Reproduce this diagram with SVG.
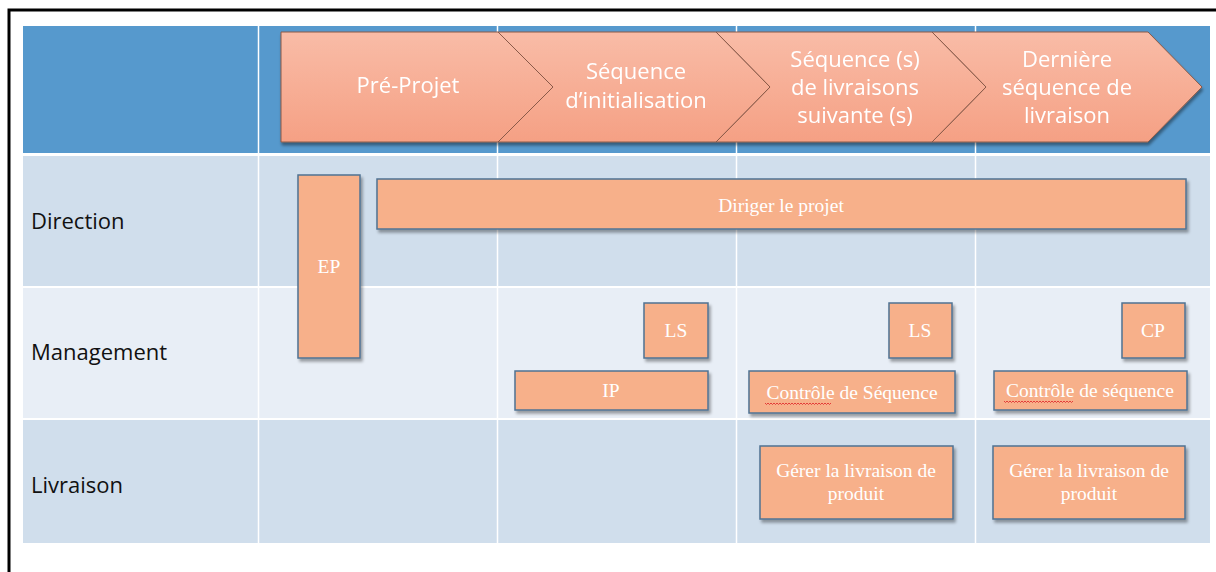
<svg xmlns="http://www.w3.org/2000/svg" width="1216" height="572" viewBox="0 0 1216 572">
<style>
.hdr{fill:#ffffff;font-family:"Open Sans","Liberation Sans",sans-serif;font-size:22px;text-anchor:middle}
.lbl{fill:#111111;font-family:"Open Sans","Liberation Sans",sans-serif;font-size:22px}
.box{fill:#f7b08a;stroke:#4f7393;stroke-width:1.5;filter:url(#sh)}
.bt{fill:#ffffff;font-family:"Liberation Serif","Times New Roman",serif;font-size:19.5px;text-anchor:middle}
.chev{fill:url(#cg);stroke:#8a5a48;stroke-width:1}
.sep{stroke:#ffffff;stroke-width:1.5}
.sq{fill:none;stroke:#e03030;stroke-width:0.9}
</style>
<defs>
<linearGradient id="cg" x1="0" y1="0" x2="0" y2="1">
<stop offset="0" stop-color="#f9bca7"/>
<stop offset="1" stop-color="#f5a084"/>
</linearGradient>
<filter id="sh" x="-10%" y="-10%" width="130%" height="140%">
<feDropShadow dx="2" dy="3" stdDeviation="1.5" flood-color="#000" flood-opacity="0.35"/>
</filter>
<filter id="hsh" x="-5%" y="-10%" width="115%" height="130%">
<feDropShadow dx="1" dy="3" stdDeviation="1.5" flood-color="#000" flood-opacity="0.4"/>
</filter>
</defs>
<rect width="1216" height="572" fill="#ffffff"/>
<path d="M9,572 V10 H1216" fill="none" stroke="#000" stroke-width="3"/>
<g id="table">
<rect x="23" y="26" width="1187" height="127" fill="#5699cd"/>
<rect x="23" y="153" width="1187" height="3" fill="#ffffff"/>
<rect x="23" y="156" width="1187" height="130" fill="#d0deec"/>
<rect x="23" y="288" width="1187" height="130" fill="#e8eef6"/>
<rect x="23" y="420" width="1187" height="123" fill="#d0deec"/>
<line class="sep" x1="23" y1="287" x2="1210" y2="287"/>
<line class="sep" x1="23" y1="419" x2="1210" y2="419"/>
<line class="sep" x1="258.5" y1="26" x2="258.5" y2="543"/>
<line class="sep" x1="497.5" y1="26" x2="497.5" y2="543"/>
<line class="sep" x1="736.5" y1="26" x2="736.5" y2="543"/>
<line class="sep" x1="975.5" y1="26" x2="975.5" y2="543"/>
<text class="lbl" x="31" y="229">Direction</text>
<text class="lbl" x="31" y="360">Management</text>
<text class="lbl" x="31" y="493">Livraison</text>
</g>
<g id="phases" filter="url(#hsh)">
<g id="chev4"><path class="chev" d="M932,32 H1148 L1202,87 L1148,142 H932 L986,87 Z"/>
<text class="hdr" x="1067" y="67">Dernière</text><text class="hdr" x="1067" y="95">séquence de</text><text class="hdr" x="1067" y="123">livraison</text></g>
<g id="chev3"><path class="chev" d="M716,32 H932 L986,87 L932,142 H716 L770,87 Z"/>
<text class="hdr" x="855" y="67">Séquence (s)</text><text class="hdr" x="855" y="95">de livraisons</text><text class="hdr" x="855" y="123">suivante (s)</text></g>
<g id="chev2"><path class="chev" d="M498,32 H716 L770,87 L716,142 H498 L553,87 Z"/>
<text class="hdr" x="636" y="79">Séquence</text><text class="hdr" x="636" y="108">d’initialisation</text></g>
<g id="chev1"><path class="chev" d="M281,32 H498 L553,87 L498,142 H281 Z"/>
<text class="hdr" x="408" y="93">Pré-Projet</text></g>
</g>
<g id="connectors"/>
<g id="ep"><rect class="box" x="298" y="175" width="62" height="183"/><text class="bt" x="329" y="273">EP</text></g>
<g id="diriger"><rect class="box" x="377" y="179" width="809" height="50"/><text class="bt" x="781" y="212">Diriger le projet</text></g>
<g id="ls1"><rect class="box" x="644" y="303" width="64" height="55"/><text class="bt" x="676" y="337">LS</text></g>
<g id="ip"><rect class="box" x="515" y="371" width="193" height="39"/><text class="bt" x="611" y="397">IP</text></g>
<g id="ls2"><rect class="box" x="889" y="303" width="63" height="55"/><text class="bt" x="920" y="337">LS</text></g>
<g id="cp"><rect class="box" x="1122" y="303" width="63" height="55"/><text class="bt" x="1153" y="337">CP</text></g>
<g id="controle1"><rect class="box" x="749" y="371" width="206" height="42"/><text class="bt" x="852" y="399">Contrôle de Séquence</text>
<path class="sq" d="M765,403 l1.5,1.5 l1.5,-1.5 l1.5,1.5 l1.5,-1.5 l1.5,1.5 l1.5,-1.5 l1.5,1.5 l1.5,-1.5 l1.5,1.5 l1.5,-1.5 l1.5,1.5 l1.5,-1.5 l1.5,1.5 l1.5,-1.5 l1.5,1.5 l1.5,-1.5 l1.5,1.5 l1.5,-1.5 l1.5,1.5 l1.5,-1.5 l1.5,1.5 l1.5,-1.5 l1.5,1.5 l1.5,-1.5 l1.5,1.5 l1.5,-1.5 l1.5,1.5 l1.5,-1.5 l1.5,1.5 l1.5,-1.5 l1.5,1.5 l1.5,-1.5 l1.5,1.5 l1.5,-1.5 l1.5,1.5 l1.5,-1.5 l1.5,1.5 l1.5,-1.5 l1.5,1.5 l1.5,-1.5 l1.5,1.5 l1.5,-1.5 l1.5,1.5 l1.5,-1.5"/></g>
<g id="controle2"><rect class="box" x="994" y="371" width="193" height="39"/><text class="bt" x="1090" y="397">Contrôle de séquence</text>
<path class="sq" d="M1004,401 l1.5,1.5 l1.5,-1.5 l1.5,1.5 l1.5,-1.5 l1.5,1.5 l1.5,-1.5 l1.5,1.5 l1.5,-1.5 l1.5,1.5 l1.5,-1.5 l1.5,1.5 l1.5,-1.5 l1.5,1.5 l1.5,-1.5 l1.5,1.5 l1.5,-1.5 l1.5,1.5 l1.5,-1.5 l1.5,1.5 l1.5,-1.5 l1.5,1.5 l1.5,-1.5 l1.5,1.5 l1.5,-1.5 l1.5,1.5 l1.5,-1.5 l1.5,1.5 l1.5,-1.5 l1.5,1.5 l1.5,-1.5 l1.5,1.5 l1.5,-1.5 l1.5,1.5 l1.5,-1.5 l1.5,1.5 l1.5,-1.5 l1.5,1.5 l1.5,-1.5 l1.5,1.5 l1.5,-1.5 l1.5,1.5 l1.5,-1.5 l1.5,1.5 l1.5,-1.5 l1.5,1.5 l1.5,-1.5"/></g>
<g id="gerer1"><rect class="box" x="760" y="446" width="193" height="73"/><text class="bt" x="856" y="477">Gérer la livraison de</text><text class="bt" x="856" y="500">produit</text></g>
<g id="gerer2"><rect class="box" x="993" y="446" width="192" height="73"/><text class="bt" x="1089" y="477">Gérer la livraison de</text><text class="bt" x="1089" y="500">produit</text></g>
</svg>
